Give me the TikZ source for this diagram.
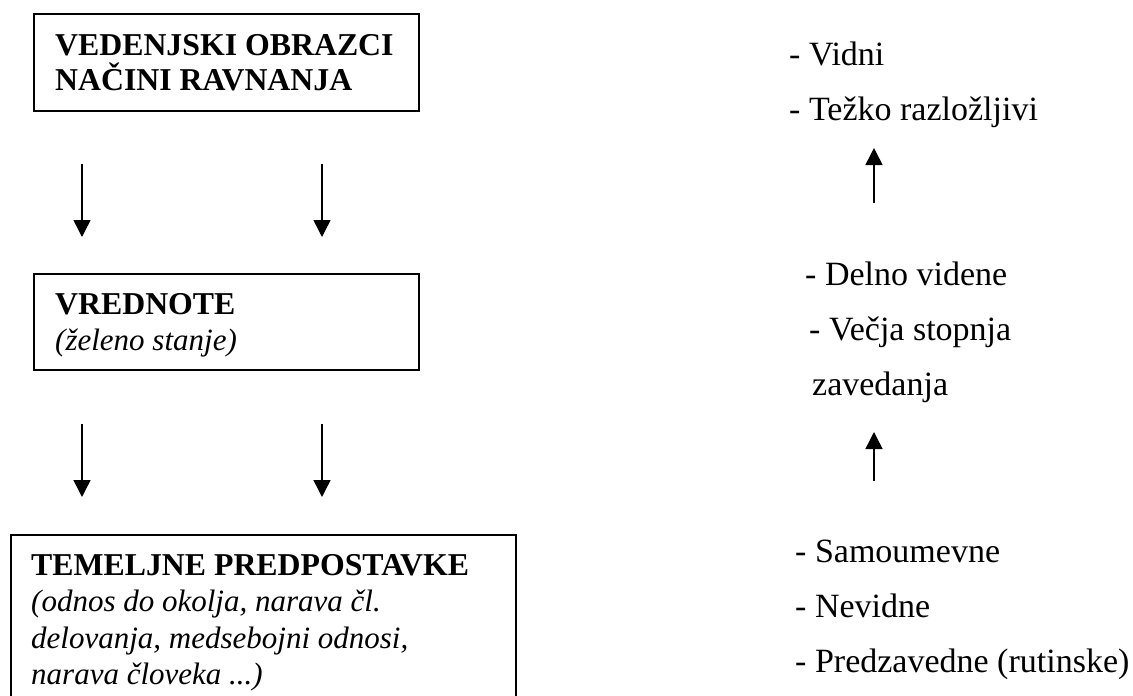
\documentclass[tikz,border=0pt]{standalone}
\usepackage{fontspec}
\setmainfont{Liberation Serif}
\usetikzlibrary{arrows.meta}
\begin{document}
\begin{tikzpicture}[
    x=1pt, y=-1pt,
    okvir/.style={draw, line width=1.6pt, anchor=north west, inner sep=0pt},
    vrstica/.style={anchor=base west, inner sep=0pt},
    krepko/.style={vrstica, font=\fontsize{31.8}{36}\selectfont\bfseries},
    lezece/.style={vrstica, font=\fontsize{31}{36}\selectfont\itshape},
    desno/.style={vrstica, font=\fontsize{34}{36}\selectfont},
    puscica/.style={-{Triangle[width=17pt,length=17pt]}, line width=1.5pt}
  ]
  \useasboundingbox (0,0) rectangle (1133,696);
  \clip (0,0) rectangle (1133,696);

  % okvirji na levi
  \node[okvir, minimum width=385pt, minimum height=97pt] (obrazci) at (33,13) {};
  \node[okvir, minimum width=385pt, minimum height=96pt] (vrednote) at (33,273) {};
  \node[okvir, minimum width=505pt, minimum height=190pt] (predpostavke) at (10,534) {};

  \node[krepko] (obrazci1) at (55,55) {VEDENJSKI OBRAZCI};
  \node[krepko] (obrazci2) at (55,90) {NAČINI RAVNANJA};
  \node[krepko] (vrednote1) at (55,314) {VREDNOTE};
  \node[lezece] (vrednote2) at (55,350) {(želeno stanje)};
  \node[krepko] (predp1) at (31,575) {TEMELJNE PREDPOSTAVKE};
  \node[lezece] (predp2) at (31,611) {(odnos do okolja, narava čl.};
  \node[lezece] (predp3) at (31,648) {delovanja, medsebojni odnosi,};
  \node[lezece] (predp4) at (31,684) {narava človeka ...)};

  % desni stolpec
  \node[desno] (vidni) at (789,65) {- Vidni};
  \node[desno] (tezko) at (789,120) {- Težko razložljivi};
  \node[desno] (delno) at (805,285) {- Delno videne};
  \node[desno] (vecja) at (809,340) {- Večja stopnja};
  \node[desno] (zaved) at (812,395) {zavedanja};
  \node[desno] (samo) at (795,562) {- Samoumevne};
  \node[desno] (nevidne) at (795,617) {- Nevidne};
  \node[desno] (predzav) at (795,672) {- Predzavedne (rutinske)};

  % konci puscic
  \coordinate (l1a) at (82,164);  \coordinate (l1b) at (82,237);
  \coordinate (d1a) at (322,164); \coordinate (d1b) at (322,237);
  \coordinate (l2a) at (82,424);  \coordinate (l2b) at (82,497);
  \coordinate (d2a) at (322,424); \coordinate (d2b) at (322,497);
  \coordinate (g1a) at (874,203); \coordinate (g1b) at (874,148);
  \coordinate (g2a) at (874,481); \coordinate (g2b) at (874,432);

  \draw[puscica] (l1a) -- (l1b);
  \draw[puscica] (d1a) -- (d1b);
  \draw[puscica] (l2a) -- (l2b);
  \draw[puscica] (d2a) -- (d2b);
  \draw[puscica] (g1a) -- (g1b);
  \draw[puscica] (g2a) -- (g2b);
\end{tikzpicture}
\end{document}
